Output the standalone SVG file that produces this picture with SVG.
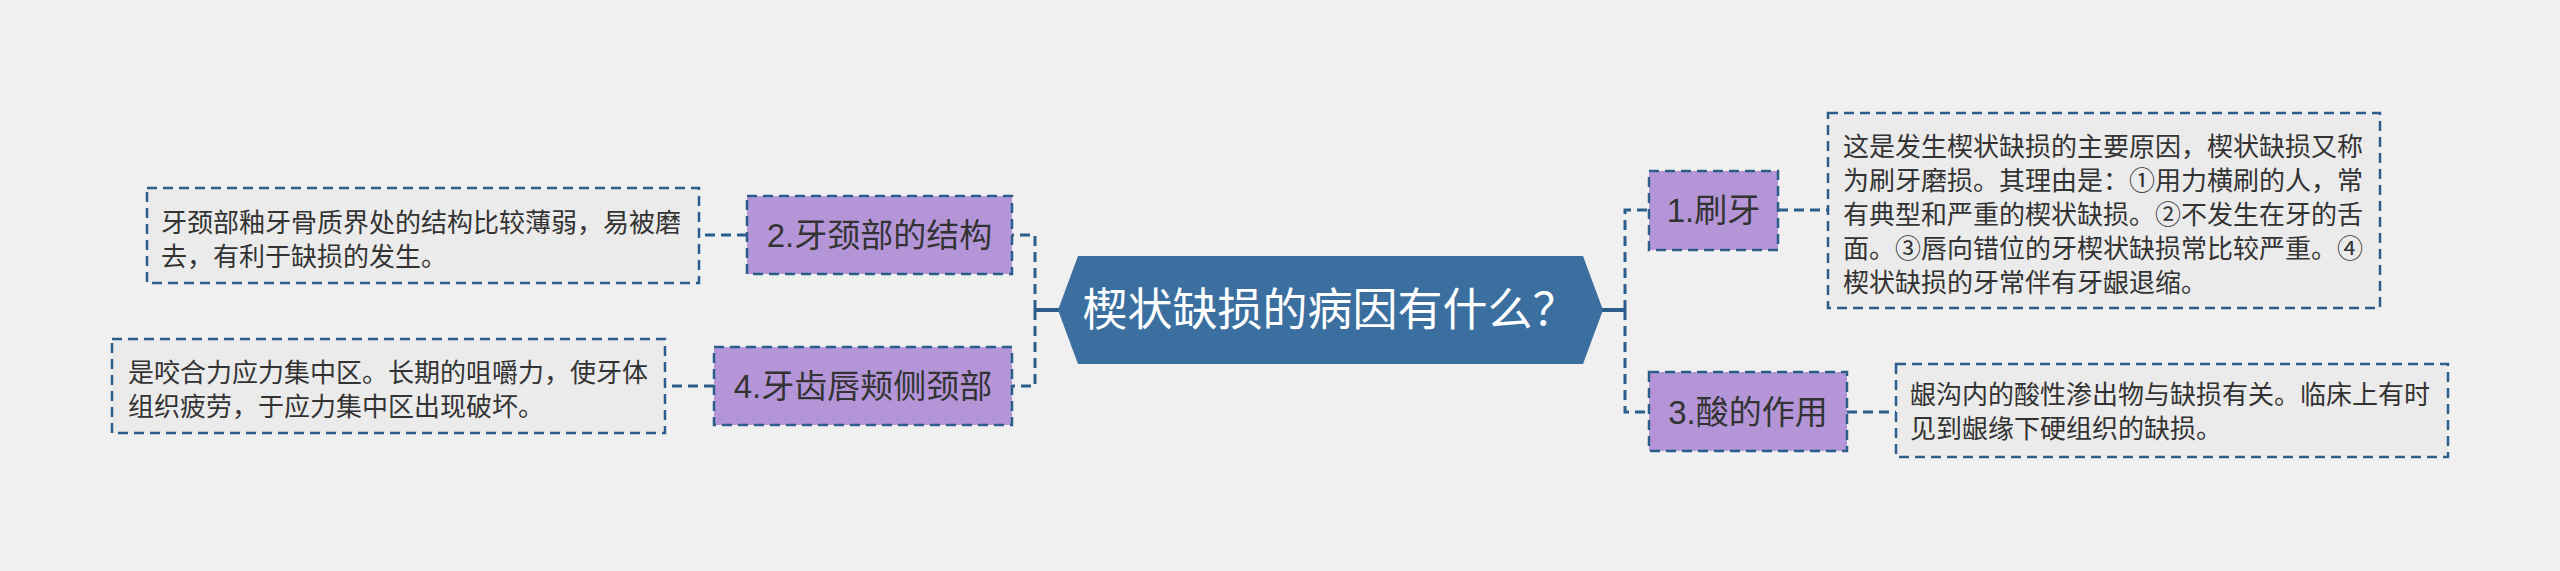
<svg xmlns="http://www.w3.org/2000/svg" width="2560" height="571" viewBox="0 0 2560 571">
<style>
.bg{fill:#f0f0f0}
.conn{fill:none;stroke:#2d5d8b;stroke-width:3;stroke-dasharray:10 6}
.solid{fill:none;stroke:#2d5d8b;stroke-width:4}
.node rect{fill:#b496d8;stroke:#2d5d8b;stroke-width:2.5;stroke-dasharray:10 6}
.leaf rect{fill:#ebebeb;stroke:#2d5d8b;stroke-width:2.5;stroke-dasharray:10 6}
.nt{font-family:"Liberation Sans","Noto Sans CJK SC",sans-serif;font-size:33px;fill:#333;text-anchor:middle;dominant-baseline:central}
.lt{font-family:"Noto Sans CJK SC",sans-serif;font-size:26px;fill:#333}
.ct{font-family:"Liberation Sans","Noto Sans CJK SC",sans-serif;font-size:45px;fill:#fff;text-anchor:middle;dominant-baseline:central}
</style>
<rect class="bg" x="0" y="0" width="2560" height="571"/>
<g id="connectors">
<path class="solid" d="M1602,310 H1625"/>
<path class="conn" d="M1625,310 V210 H1649"/>
<path class="conn" d="M1625,310 V412 H1649"/>
<path class="solid" d="M1059,310 H1035"/>
<path class="conn" d="M1035,310 V235 H1012"/>
<path class="conn" d="M1035,310 V386 H1012"/>
<path class="conn" d="M1778,210 H1828"/>
<path class="conn" d="M1847,412 H1896"/>
<path class="conn" d="M747,235 H699"/>
<path class="conn" d="M714,386 H665"/>
</g>
<g id="center">
<polygon points="1058,310 1078,256 1583,256 1603,310 1583,364 1078,364" fill="#3b6fa0"/>
<text class="ct" x="1330" y="310">楔状缺损的病因有什么？</text>
</g>
<g id="n1" class="node">
<rect x="1649" y="171" width="129" height="79"/>
<text class="nt" x="1713.5" y="210">1.刷牙</text>
</g>
<g id="n2" class="node">
<rect x="747" y="196" width="265" height="78"/>
<text class="nt" x="879.5" y="235">2.牙颈部的结构</text>
</g>
<g id="n3" class="node">
<rect x="1649" y="372" width="198" height="79"/>
<text class="nt" x="1748" y="412">3.酸的作用</text>
</g>
<g id="n4" class="node">
<rect x="714" y="347" width="298" height="78"/>
<text class="nt" x="863" y="386">4.牙齿唇颊侧颈部</text>
</g>
<g id="l1" class="leaf">
<rect x="1828" y="113" width="552" height="195"/>
<text class="lt" x="1843" y="156">这是发生楔状缺损的主要原因，楔状缺损又称</text>
<text class="lt" x="1843" y="190">为刷牙磨损。其理由是：①用力横刷的人，常</text>
<text class="lt" x="1843" y="224">有典型和严重的楔状缺损。②不发生在牙的舌</text>
<text class="lt" x="1843" y="258">面。③唇向错位的牙楔状缺损常比较严重。④</text>
<text class="lt" x="1843" y="292">楔状缺损的牙常伴有牙龈退缩。</text>
</g>
<g id="l3" class="leaf">
<rect x="1896" y="364" width="552" height="93"/>
<text class="lt" x="1910" y="404">龈沟内的酸性渗出物与缺损有关。临床上有时</text>
<text class="lt" x="1910" y="438">见到龈缘下硬组织的缺损。</text>
</g>
<g id="l2" class="leaf">
<rect x="147" y="188" width="552" height="95"/>
<text class="lt" x="161" y="232">牙颈部釉牙骨质界处的结构比较薄弱，易被磨</text>
<text class="lt" x="161" y="266">去，有利于缺损的发生。</text>
</g>
<g id="l4" class="leaf">
<rect x="112" y="339" width="553" height="94"/>
<text class="lt" x="128" y="382">是咬合力应力集中区。长期的咀嚼力，使牙体</text>
<text class="lt" x="128" y="416">组织疲劳，于应力集中区出现破坏。</text>
</g>
</svg>
